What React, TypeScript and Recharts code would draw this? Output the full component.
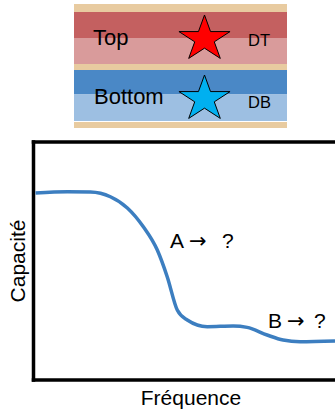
import { LineChart, Line, XAxis, YAxis, ReferenceLine } from 'recharts';

// Fréquence (unités arbitraires) et capacité (% de la hauteur du cadre)
const frequence = [2, 34, 57, 77, 94, 110, 124, 134, 144, 154, 174, 200, 214, 234, 250, 267, 302];
const capacite = [78.6, 79.1, 79.0, 77.0, 72.3, 64.4, 54.6, 43.3, 29.4, 25.2, 22.4, 22.7, 22.1, 18.9, 16.8, 16.1, 16.4];

const data = frequence.map((f, i) => ({ f, c: capacite[i] }));

const FONT = '"Liberation Sans", Arial, sans-serif';
const ARROW_FONT = '"DejaVu Sans", sans-serif';

// pentagram, slightly wider than tall like the original drawing
const starPoints = (cx: number, cy: number, r: number, sx: number) => {
  const pts: string[] = [];
  for (let i = 0; i < 10; i++) {
    const a = ((-90 + 36 * i) * Math.PI) / 180;
    const rr = i % 2 === 0 ? r : r * 0.382;
    pts.push(`${(cx + rr * Math.cos(a) * sx).toFixed(2)},${(cy + rr * Math.sin(a)).toFixed(2)}`);
  }
  return pts.join(' ');
};

const Diagram = () => (
  <svg width={335} height={130} style={{ position: 'absolute', left: 0, top: 0 }}>
    <rect x={74} y={4} width={213} height={8} fill="#E8CBA0" />
    <rect x={74} y={12} width={213} height={26} fill="#C46060" />
    <rect x={74} y={38} width={213} height={26} fill="#D99B9B" />
    <rect x={74} y={64} width={213} height={6} fill="#E8CBA0" />
    <rect x={74} y={70} width={213} height={24.5} fill="#4A88C6" />
    <rect x={74} y={94.5} width={213} height={26.5} fill="#9DBFE2" />
    <rect x={74} y={122} width={213} height={6} fill="#E8CBA0" />
    <text x={93} y={44.5} fontSize={22} fontFamily={FONT} fill="#000">Top</text>
    <text x={94} y={104} fontSize={22} fontFamily={FONT} fill="#000">Bottom</text>
    <polygon points={starPoints(204.5, 39, 24, 1.12)} fill="#FF0000" stroke="#000" strokeWidth={1} />
    <polygon points={starPoints(204.5, 99, 24, 1.12)} fill="#00B0F0" stroke="#000" strokeWidth={1} />
    <text x={248} y={46} fontSize={16.5} fontFamily={FONT} fill="#000">DT</text>
    <text x={248} y={108} fontSize={16.5} fontFamily={FONT} fill="#000">DB</text>
  </svg>
);

const Labels = () => (
  <svg width={335} height={412} style={{ position: 'absolute', left: 0, top: 0, pointerEvents: 'none' }}>
    <text x={170} y={248} fontSize={21} fontFamily={FONT} fill="#000">
      A <tspan x={189} fontFamily={ARROW_FONT}>→</tspan>
      <tspan x={222}>?</tspan>
    </text>
    <text x={268} y={328} fontSize={21} fontFamily={FONT} fill="#000">
      B <tspan x={287} fontFamily={ARROW_FONT}>→</tspan>
      <tspan x={314}>?</tspan>
    </text>
    <text x={191} y={405} fontSize={21} fontFamily={FONT} fill="#000" textAnchor="middle">Fréquence</text>
    <text transform="translate(25,261) rotate(-90)" fontSize={21} fontFamily={FONT} fill="#000" textAnchor="middle">Capacité</text>
  </svg>
);

export default function App() {
  return (
    <div style={{ position: 'fixed', left: 0, top: 0, width: 335, height: 412, background: '#fff', overflow: 'hidden' }}>
      <Diagram />
      <div style={{ position: 'absolute', left: 0, top: 130 }}>
        <LineChart width={335} height={282} data={data} margin={{ top: 12, right: 0, left: 33.5, bottom: 32 }}>
          <XAxis dataKey="f" type="number" domain={[0, 302]} hide />
          <YAxis type="number" domain={[0, 100]} hide />
          <ReferenceLine y={100} stroke="#000" strokeWidth={3.5} strokeLinecap="square" />
          <ReferenceLine y={0} stroke="#000" strokeWidth={3.5} strokeLinecap="square" />
          <ReferenceLine x={0} stroke="#000" strokeWidth={3.5} strokeLinecap="square" />
          <Line
            type="monotone"
            dataKey="c"
            stroke="#3C7EC0"
            strokeWidth={3.5}
            dot={false}
            isAnimationActive={false}
          />
        </LineChart>
      </div>
      <Labels />
    </div>
  );
}
